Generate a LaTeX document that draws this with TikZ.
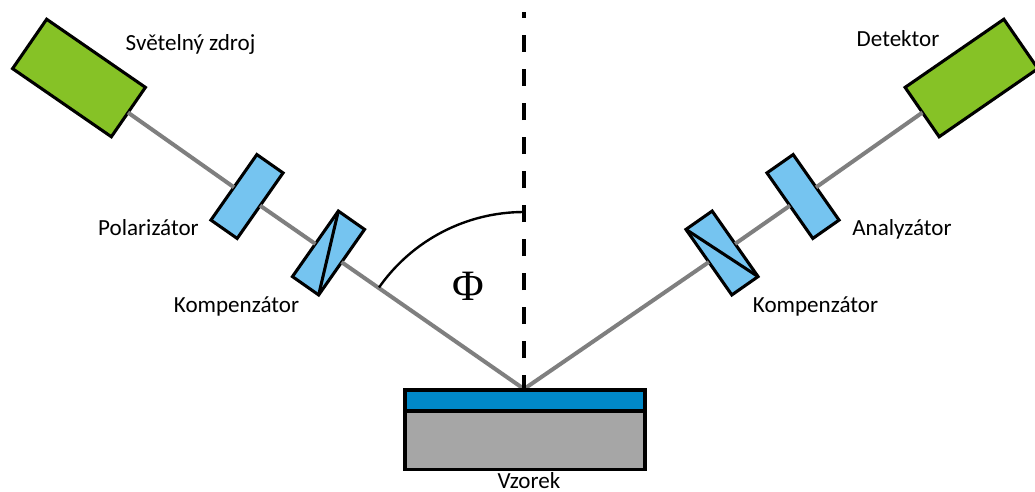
\documentclass[tikz,border=0pt]{standalone}
\usepackage{fontspec}
\setmainfont{Carlito}
\newfontfamily\phifont{Liberation Serif}
\definecolor{boxgreen}{RGB}{134,194,38}
\definecolor{optblue}{RGB}{117,196,240}
\definecolor{filmblue}{RGB}{0,136,200}
\definecolor{bulkgray}{RGB}{166,166,166}
\definecolor{beamgray}{RGB}{127,127,127}
\tikzset{
    unitbox/.style={draw=black, line width=2.3pt, fill=boxgreen, inner sep=0pt, outer sep=0pt, minimum width=120pt*0.75, minimum height=60pt*0.75},
    optbox/.style={draw=black, line width=2.3pt, fill=optblue, inner sep=0pt, outer sep=0pt, minimum width=32pt*0.75, minimum height=80pt*0.75},
    layerbox/.style={draw=black, line width=2.3pt, inner sep=0pt, outer sep=0pt, minimum width=240pt*0.75},
    beam/.style={draw=beamgray, line width=3pt},
    caption/.style={inner sep=0pt, anchor=base, font=\fontsize{17.3pt}{20pt}\selectfont}
}
\begin{document}
\begin{tikzpicture}[x=0.75pt, y=-0.75pt]
    \useasboundingbox (0,0) rectangle (1035,492);
    \coordinate (hit) at (524,389); \coordinate (top) at (524,12); \coordinate (arcend) at (524,212);
    % optics
    \node[unitbox, rotate=-34.6] (source) at (79,78) {};
    \node[optbox, rotate=-35] (polarizer) at (247,196.5) {};
    \node[optbox, rotate=-35] (compL) at (328.5,253) {};
    \node[unitbox, rotate=34.6] (detector) at (971.5,78) {};
    \node[optbox, rotate=35] (analyzer) at (803,196.5) {};
    \node[optbox, rotate=35] (compR) at (722,253) {};
    \draw[line width=2.3pt] (compL.north west) -- (compL.south east);
    \draw[line width=2.3pt] (compR.north west) -- (compR.south east);
    % beams
    \draw[beam] (source) -- (polarizer); \draw[beam] (polarizer) -- (compL); \draw[beam] (compL) -- (hit);
    \draw[beam] (detector) -- (analyzer); \draw[beam] (analyzer) -- (compR); \draw[beam] (compR) -- (hit);
    % sample
    \node[layerbox, fill=filmblue, minimum height=21pt*0.75] (film) at (525,400.5) {};
    \node[layerbox, fill=bulkgray, minimum height=58.5pt*0.75] (bulk) at (525,440.25) {};
    \draw[line width=3pt, dash pattern=on 12.75pt off 12.75pt, dash phase=2.25pt] (hit) -- (top);
    \draw[line width=1.8pt] (arcend) arc[start angle=-90, end angle=-145, radius=177];
    % labels
    \node[caption] (lsource) at (190.5,50.5) {Světelný zdroj};
    \node[caption] (lpolarizer) at (148.5,235.5) {Polarizátor};
    \node[caption] (lcompL) at (236.5,312) {Kompenzátor};
    \node[caption] (ldetector) at (898,46.5) {Detektor};
    \node[caption] (lanalyzer) at (902,235.5) {Analyzátor};
    \node[caption] (lcompR) at (815.5,312) {Kompenzátor};
    \node[caption] (lsample) at (529,488) {Vzorek};
    \node[inner sep=0pt, font=\phifont\fontsize{32.5pt}{32.5pt}\selectfont] (angle) at (468.5,286) {Φ};
\end{tikzpicture}
\end{document}
